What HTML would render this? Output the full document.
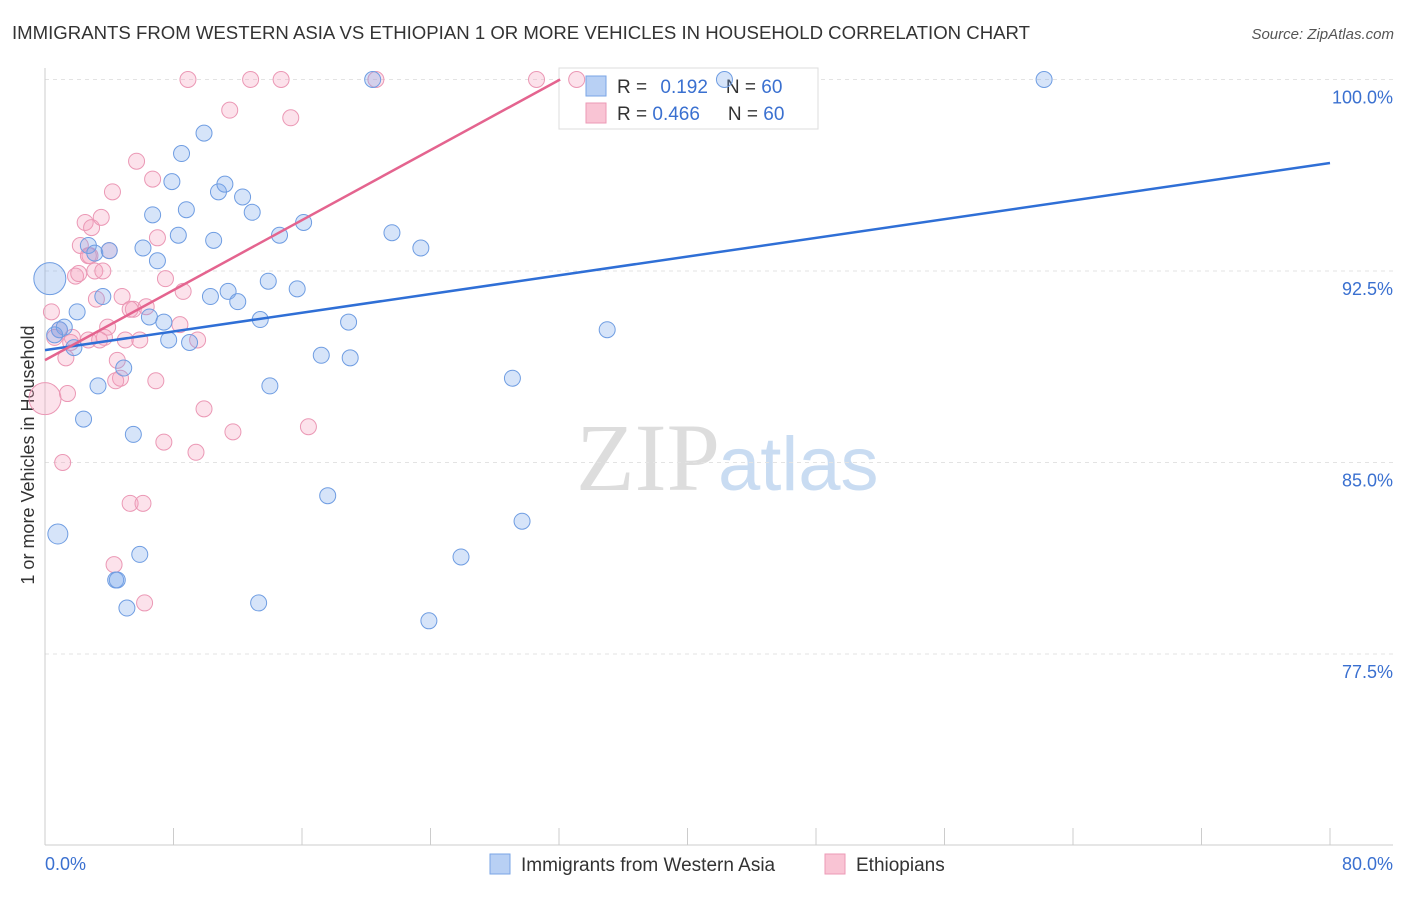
<!DOCTYPE html>
<html><head><meta charset="utf-8"><style>
body{margin:0;background:#fff;font-family:"Liberation Sans",sans-serif}
</style></head><body>
<svg id="c" width="1406" height="892" xmlns="http://www.w3.org/2000/svg">
<text x="12" y="39" font-size="18.6" fill="#333">IMMIGRANTS FROM WESTERN ASIA VS ETHIOPIAN 1 OR MORE VEHICLES IN HOUSEHOLD CORRELATION CHART</text>
<text x="1394" y="39" font-size="15" fill="#555" font-style="italic" text-anchor="end">Source: ZipAtlas.com</text>
<text x="720" y="490" font-size="96" fill="#ddd" text-anchor="end" font-family="Liberation Serif">ZIP</text>
<text x="718" y="490" font-size="76" fill="#c9dcf2">atlas</text>
<text transform="translate(34,455) rotate(-90)" font-size="18" fill="#333" text-anchor="middle">1 or more Vehicles in Household</text>
<g id="grid"></g>
<rect x="559" y="68" width="259" height="61" fill="#fff" stroke="#ddd"/>
<rect x="586" y="76" width="20" height="20" fill="#b8d0f4" stroke="#7aa5e6"/>
<rect x="586" y="103" width="20" height="20" fill="#f9c4d4" stroke="#ec9ab6"/>
<text x="617" y="93" font-size="19" fill="#333">R = <tspan fill="#3a70d0" dx="8">0.192</tspan><tspan dx="18">N = </tspan><tspan fill="#3a70d0">60</tspan></text>
<text x="617" y="120" font-size="19" fill="#333">R = <tspan fill="#3a70d0">0.466</tspan><tspan dx="28">N = </tspan><tspan fill="#3a70d0">60</tspan></text>
<g id="pts"></g><g id="lines"></g>
<rect x="490" y="854" width="20" height="20" fill="#b8d0f4" stroke="#7aa5e6"/>
<text x="521" y="871" font-size="19" fill="#333">Immigrants from Western Asia</text>
<rect x="825" y="854" width="20" height="20" fill="#f9c4d4" stroke="#ec9ab6"/>
<text x="856" y="871" font-size="19" fill="#333">Ethiopians</text>
<text x="45" y="870" font-size="18" fill="#3a70d0">0.0%</text>
<text x="1393" y="870" font-size="18" fill="#3a70d0" text-anchor="end">80.0%</text>
</svg>
<script>
const yTicks=[100,92.5,85,77.5];
const yTickLabels=["100.0%","92.5%","85.0%","77.5%"];
const blueX=[0.3,0.8,0.9,1.2,0.6,1.8,2.0,2.4,2.7,3.1,3.3,3.6,4.0,4.9,5.5,5.9,4.4,4.5,5.1,6.1,6.5,6.7,7.0,7.4,7.7,7.9,8.3,8.5,8.8,9.0,9.9,10.3,10.5,10.8,11.2,11.4,12.0,12.3,12.9,13.4,13.3,13.9,14.0,14.6,15.7,16.1,17.2,17.6,18.9,19.0,20.4,21.6,23.4,23.9,25.9,29.1,29.7,35.0,42.3,62.2];
const blueY=[92.2,82.2,90.2,90.3,90.0,89.5,90.9,86.7,93.5,93.2,88.0,91.5,93.3,88.7,86.1,81.4,80.4,80.4,79.3,93.4,90.7,94.7,92.9,90.5,89.8,96.0,93.9,97.1,94.9,89.7,97.9,91.5,93.7,95.6,95.9,91.7,91.3,95.4,94.8,90.6,79.5,92.1,88.0,93.9,91.8,94.4,89.2,83.7,90.5,89.1,100,94.0,93.4,78.8,81.3,88.3,82.7,90.2,100,100];
const pinkX=[0,0.4,0.6,1.1,1.3,1.4,1.7,1.9,2.1,2.2,2.5,2.8,2.9,3.1,3.2,3.5,3.6,3.7,3.9,4.0,4.2,4.5,4.7,4.8,5.0,5.3,5.5,5.7,5.9,6.1,6.2,6.3,6.7,6.9,7.0,7.4,7.5,8.4,8.6,8.9,9.4,9.5,9.9,11.5,11.7,12.8,14.7,15.3,16.4,20.6,30.6,33.1,4.3,2.7,3.4,0.9,1.6,5.3,2.7,4.4];
const pinkY=[87.5,90.9,89.9,85.0,89.1,87.7,89.9,92.3,92.4,93.5,94.4,93.1,94.2,92.5,91.4,94.6,92.5,89.9,90.3,93.3,95.6,89.0,88.3,91.5,89.8,83.4,91.0,96.8,89.8,83.4,79.5,91.1,96.1,88.2,93.8,85.8,92.2,90.4,91.7,100,85.4,89.8,87.1,98.8,86.2,100,100,98.5,86.4,100,100,100,81.0,89.8,89.8,90.2,89.7,91.0,93.1,88.2];
const blueLine=[89.4,96.73], pinkLine=[89.01,100];
const NS="http://www.w3.org/2000/svg";
const xs=v=>45+v*(1285/80), ys=v=>79.5+(100-v)*(191.5/7.5);
function mk(t,a,p){const e=document.createElementNS(NS,t);for(const k in a)e.setAttribute(k,a[k]);p.appendChild(e);return e;}
const g=document.getElementById('grid');
yTicks.forEach((t,i)=>{
 const l=mk('line',{x1:45,x2:1393,y1:ys(t),y2:ys(t),stroke:'#e3e3e3','stroke-dasharray':'4,4'},g);
 
 
 const tx=mk('text',{x:1393,y:ys(t)+24,'font-size':18,fill:'#3a70d0','text-anchor':'end'},g);
 tx.textContent=yTickLabels[i];
 
 
});
const ax=mk('line',{x1:45,x2:1393,y1:845,y2:845,stroke:'#ccc'},g);


const ay=mk('line',{x1:45,x2:45,y1:68,y2:845,stroke:'#ccc'},g);


for(let i=0;i<=10;i++){const t=mk('line',{x1:xs(i*8),x2:xs(i*8),y1:828,y2:845,stroke:'#ccc'},g);
 
 }
const p=document.getElementById('pts');
function dots(X,Y,f,s,name){X.forEach((x,i)=>{const r=(i==0&&name=='blue-point')?16:(name=='blue-point'&&i==1?10:8);
 const rr=(name=='pink-point'&&i==0)?16:r;
 const c=mk('circle',{cx:xs(x),cy:ys(Y[i]),r:rr,fill:f,stroke:s,'stroke-width':1},p);
 
 });}
dots(pinkX,pinkY,'rgba(244,160,188,0.3)','#eb98b5','pink-point');
dots(blueX,blueY,'rgba(120,165,235,0.3)','#6f9de2','blue-point');
const L=document.getElementById('lines');
const bl=mk('line',{x1:xs(0),y1:ys(blueLine[0]),x2:xs(80),y2:ys(blueLine[1]),stroke:'#2f6fd6','stroke-width':2.5},L);


const pl=mk('line',{x1:xs(0),y1:ys(pinkLine[0]),x2:xs(32.07),y2:ys(pinkLine[1]),stroke:'#e4648f','stroke-width':2.5},L);


</script>
</body></html>
